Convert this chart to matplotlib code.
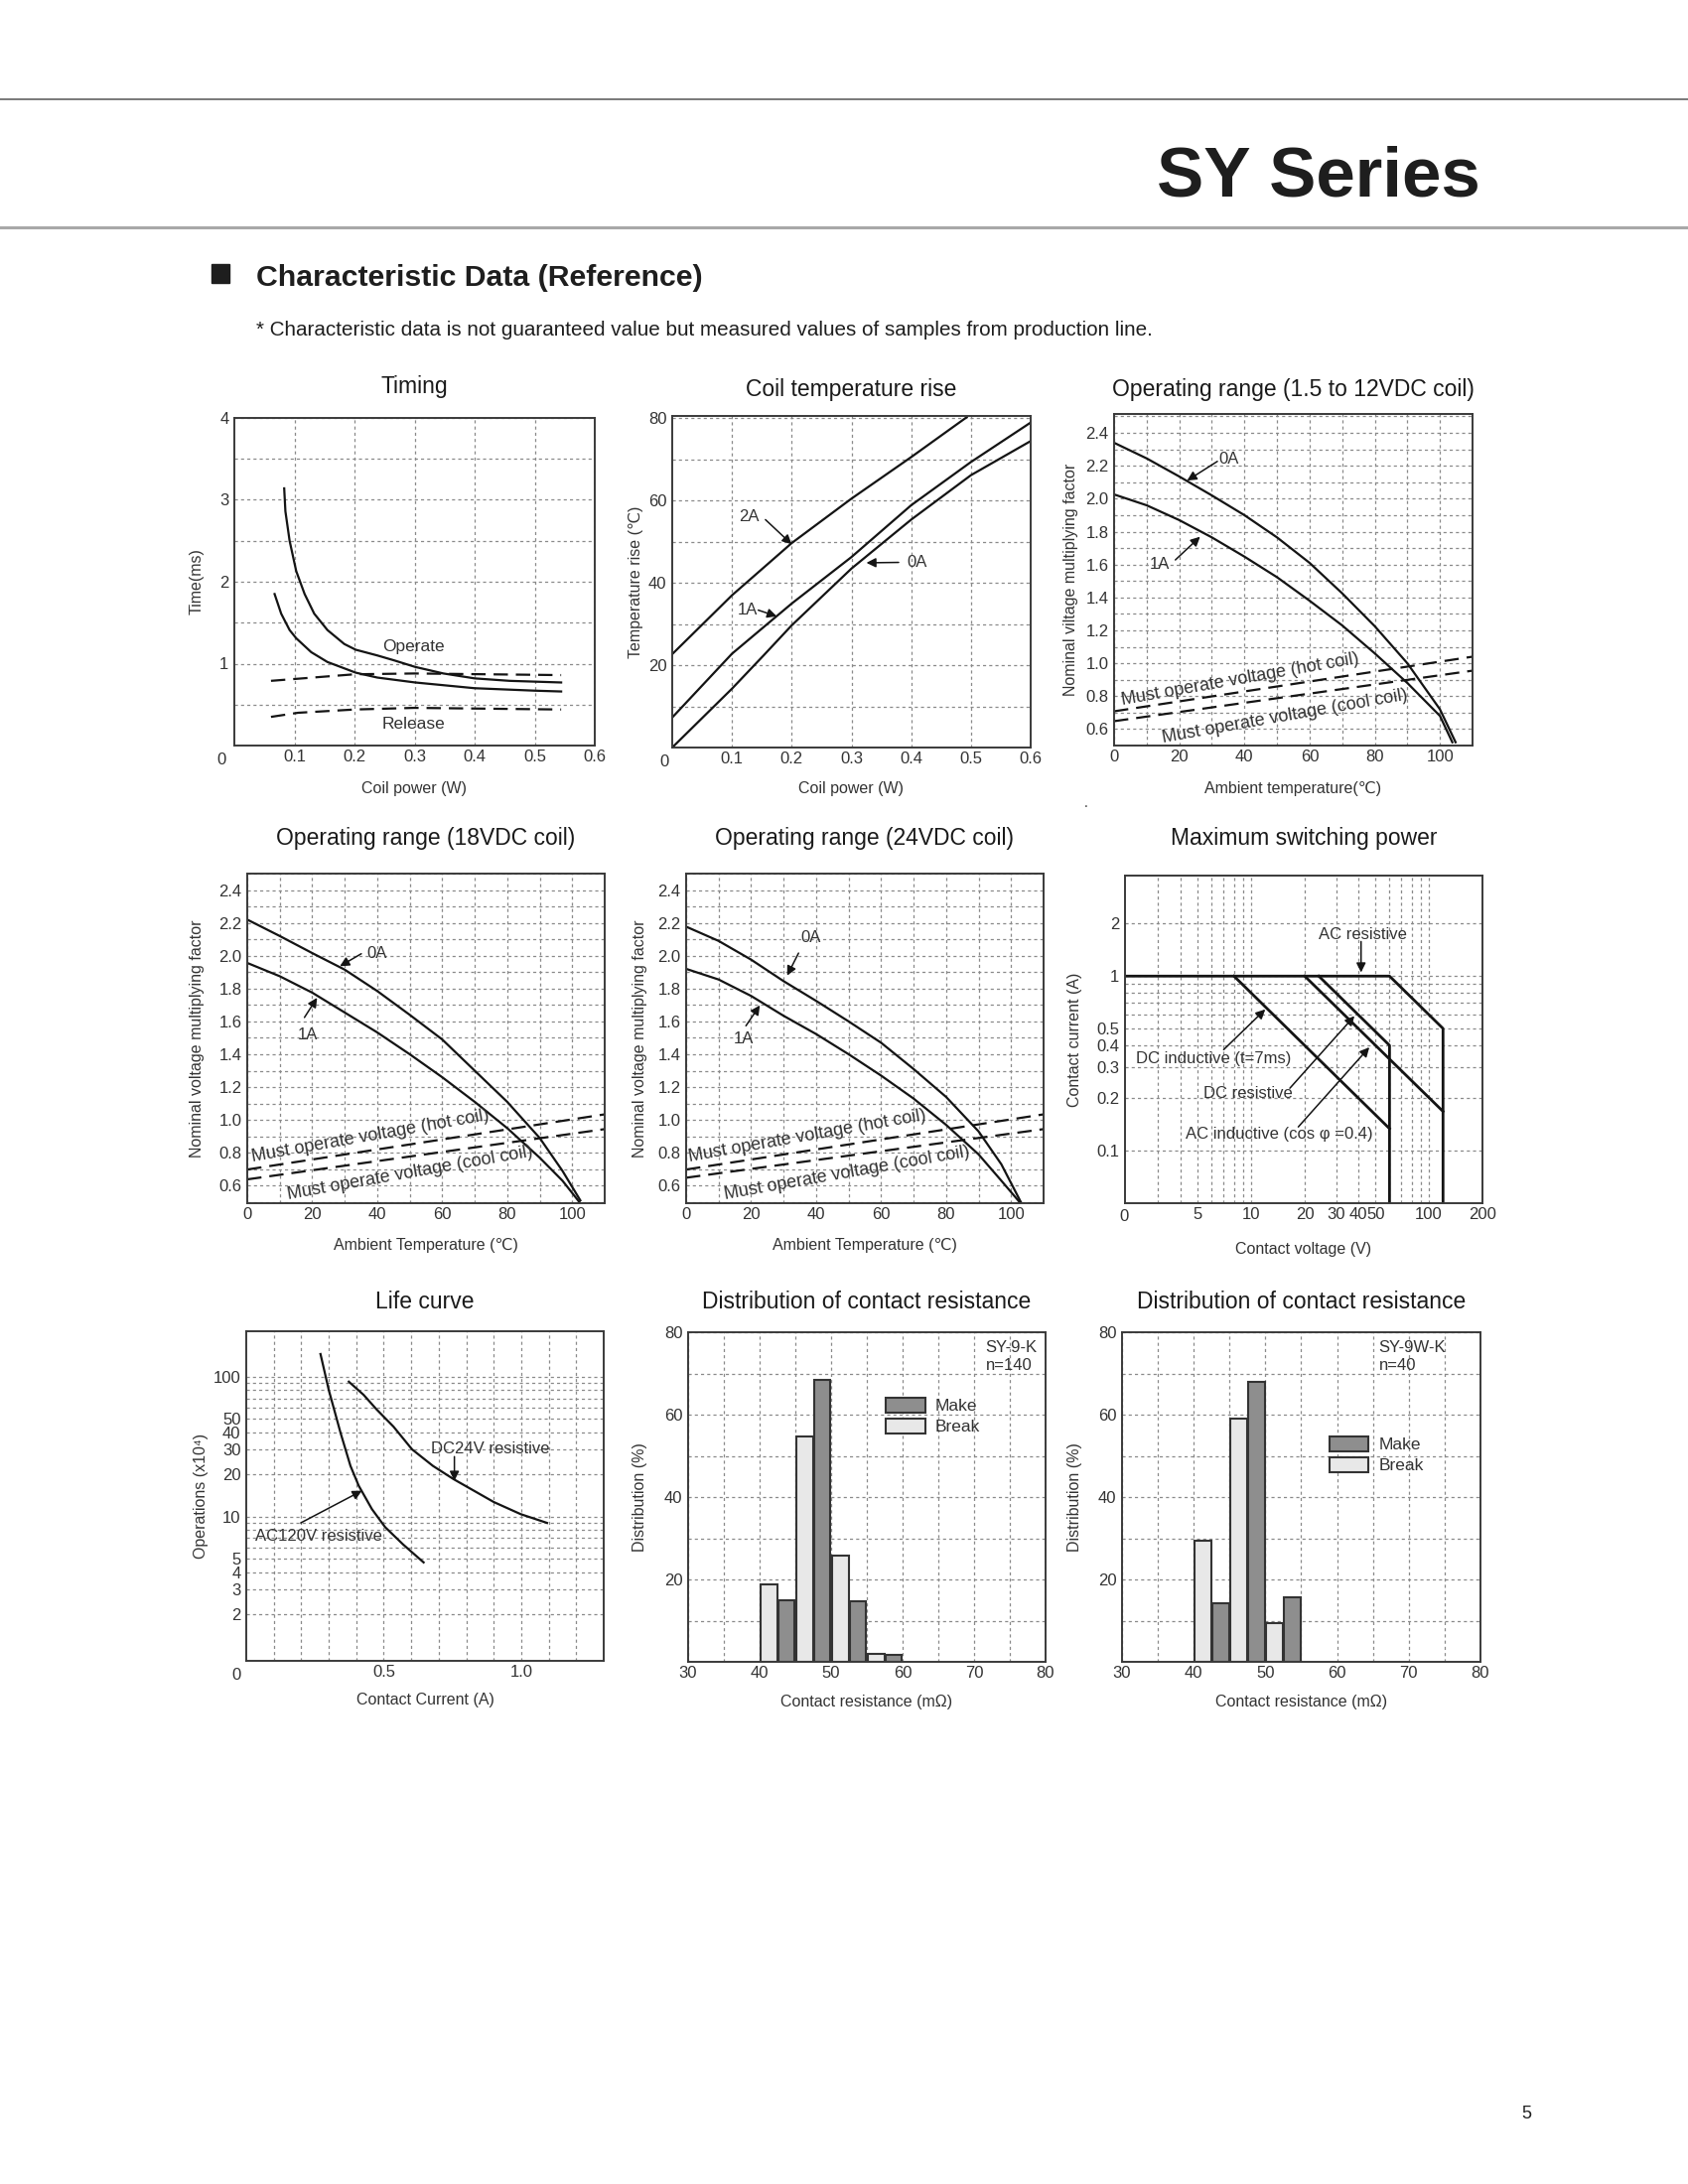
import numpy as np
import matplotlib
matplotlib.use('Agg')
import matplotlib.pyplot as plt
from matplotlib.ticker import NullFormatter
from matplotlib.patches import Rectangle
from matplotlib.lines import Line2D

# 字体：Liberation Sans，缺字（℃）时回落到 DejaVu Sans
plt.rcParams['font.family'] = ['Liberation Sans', 'DejaVu Sans']

# ---------------- data ----------------
# Timing
op_max_x = [0.083, 0.085, 0.092, 0.103, 0.117, 0.133, 0.155, 0.183, 0.202, 0.238, 0.266, 0.301, 0.348, 0.40, 0.458, 0.544]
op_max_y = [3.14, 2.86, 2.50, 2.13, 1.85, 1.61, 1.41, 1.24, 1.17, 1.10, 1.04, 0.96, 0.88, 0.82, 0.79, 0.77]
op_min_x = [0.067, 0.078, 0.092, 0.103, 0.128, 0.155, 0.202, 0.238, 0.301, 0.40, 0.50, 0.544]
op_min_y = [1.85, 1.61, 1.41, 1.31, 1.14, 1.02, 0.89, 0.83, 0.77, 0.70, 0.67, 0.66]
rel_max_x = [0.061, 0.2, 0.3, 0.544]
rel_max_y = [0.79, 0.87, 0.88, 0.86]
rel_min_x = [0.061, 0.106, 0.2, 0.3, 0.544]
rel_min_y = [0.35, 0.40, 0.44, 0.46, 0.44]

# Coil temperature rise
coil_2a_x = [0, 0.1, 0.2, 0.3, 0.4, 0.493]
coil_2a_y = [22.7, 37.0, 49.7, 60.5, 70.6, 80.3]
coil_1a_x = [0, 0.1, 0.2, 0.3, 0.4, 0.5, 0.6]
coil_1a_y = [7.3, 22.8, 35.0, 46.3, 58.9, 69.4, 79.0]
coil_0a_x = [0, 0.1, 0.153, 0.2, 0.3, 0.4, 0.5, 0.6]
coil_0a_y = [0, 14.3, 22.4, 29.7, 43.5, 55.4, 66.2, 74.5]

# Operating range (1.5 to 12VDC coil)
op12_0a_t = [0, 10, 20, 30, 40, 50, 60, 70, 80, 90, 100, 104.8]
op12_0a_v = [2.34, 2.245, 2.135, 2.02, 1.90, 1.765, 1.61, 1.425, 1.225, 1.0, 0.72, 0.52]
op12_1a_t = [0, 10, 20, 30, 40, 50, 60, 70, 80, 90, 100, 103.8]
op12_1a_v = [2.026, 1.96, 1.87, 1.765, 1.648, 1.523, 1.38, 1.23, 1.06, 0.88, 0.68, 0.52]
op12_hot_t, op12_hot_v = [0, 110], [0.708, 1.04]
op12_cool_t, op12_cool_v = [0, 110], [0.648, 0.955]

# Operating range (18VDC coil)
op18_0a_t = [0, 10, 20, 30, 40, 50, 60, 70, 80, 90, 97, 102.5]
op18_0a_v = [2.22, 2.12, 2.016, 1.915, 1.785, 1.64, 1.49, 1.30, 1.11, 0.89, 0.69, 0.51]
op18_1a_t = [0, 10, 20, 30, 40, 50, 60, 70, 80, 90, 97, 102.2]
op18_1a_v = [1.956, 1.875, 1.775, 1.654, 1.533, 1.40, 1.26, 1.11, 0.95, 0.77, 0.63, 0.50]
op18_hot_t, op18_hot_v = [0, 110], [0.698, 1.034]
op18_cool_t, op18_cool_v = [0, 110], [0.638, 0.944]

# Operating range (24VDC coil)
op24_0a_t = [0, 10, 20, 30, 40, 50, 60, 70, 80, 90, 97, 103]
op24_0a_v = [2.177, 2.09, 1.976, 1.845, 1.725, 1.60, 1.47, 1.31, 1.14, 0.93, 0.73, 0.50]
op24_1a_t = [0, 10, 20, 30, 40, 50, 60, 70, 80, 90, 97, 102.6]
op24_1a_v = [1.92, 1.855, 1.755, 1.634, 1.523, 1.40, 1.27, 1.13, 0.97, 0.79, 0.63, 0.50]
op24_hot_t, op24_hot_v = [0, 110], [0.698, 1.034]
op24_cool_t, op24_cool_v = [0, 110], [0.648, 0.944]

# Maximum switching power
ac_res_v = [1.95, 60, 120, 120]
ac_res_i = [1, 1, 0.5, 0.049]
dc_res_v = [24, 60, 60]
dc_res_i = [1, 0.4, 0.049]
dc_ind_v = [8, 60]
dc_ind_i = [1, 0.133]
ac_ind_v = [20, 120]
ac_ind_i = [1, 0.167]

# Life curve
life_ac_x = [0.27, 0.30, 0.343, 0.379, 0.409, 0.457, 0.505, 0.571, 0.645]
life_ac_y = [145, 80.4, 39.6, 23.0, 16.6, 11.3, 8.4, 6.3, 4.7]
life_dc_x = [0.373, 0.427, 0.475, 0.535, 0.603, 0.679, 0.754, 0.90, 0.998, 1.094]
life_dc_y = [92, 74, 58, 44, 30.2, 23, 18.5, 12.7, 10.4, 9.0]

# Distribution of contact resistance
dist1_bins = [40, 45, 50, 55]
dist1_break = [18.8, 54.6, 25.7, 2.0]
dist1_make = [15.0, 68.5, 14.8, 1.8]
dist2_bins = [40, 45, 50]
dist2_break = [29.4, 59.1, 9.5]
dist2_make = [14.1, 68.0, 15.7]

# ---------------- layout helpers ----------------
W, H = 1700, 2200
TXT = '#333333'
INK = '#141414'
DASH = (0, (6.5, 3.6))


def box(px):
    x0, y0, x1, y1 = px
    return [x0 / W, 1 - y1 / H, (x1 - x0) / W, (y1 - y0) / H]


def setup(ax, px, title, title_y, xlabel, xlabel_y, ylabel, ylabel_x):
    x0, y0, x1, y1 = px
    w, h = x1 - x0, y1 - y0
    ax.set_title(title, y=1 + (y0 - title_y) / h, pad=0, va='center',
                 fontsize=16.5, color='#1a1a1a')
    ax.set_xlabel(xlabel, fontsize=11.5, color=TXT)
    ax.xaxis.set_label_coords(0.5, -(xlabel_y - y1) / h)
    ax.xaxis.label.set_va('center')
    ax.set_ylabel(ylabel, fontsize=11.5, color=TXT)
    ax.yaxis.set_label_coords(-(x0 - ylabel_x) / w, 0.5)
    ax.yaxis.label.set_va('center')
    for s in ax.spines.values():
        s.set_color('#3a3a3a')
        s.set_linewidth(1.4)
    ax.tick_params(which='both', length=0, labelsize=12, labelcolor=TXT)
    ax.tick_params(axis='x', which='both', pad=3)
    ax.tick_params(axis='y', which='both', pad=4)
    ax.grid(True, which='both', color='#8a8a8a', lw=0.9, ls=(0, (2.5, 2.5)))
    ax.set_axisbelow(True)


def ticks(ax, xlab, xtxt, xgrid, ylab, ytxt, ygrid):
    ax.set_xticks(xlab, xtxt)
    ax.set_xticks(xgrid, minor=True)
    ax.set_yticks(ylab, ytxt)
    ax.set_yticks(ygrid, minor=True)
    ax.xaxis.set_minor_formatter(NullFormatter())
    ax.yaxis.set_minor_formatter(NullFormatter())


def corner_zero(ax, dx):
    ax.annotate('0', xy=(0, 0), xycoords='axes fraction', xytext=(dx, -14),
                textcoords='offset pixels', ha='center', va='center',
                fontsize=12, color=TXT)


def arrow(ax, tail, tip):
    ax.annotate('', xy=tip, xytext=tail,
                arrowprops=dict(arrowstyle='-|>', color=INK, lw=1.1,
                                mutation_scale=14, shrinkA=0, shrinkB=0))


def label(ax, x, y, s, **kw):
    kw.setdefault('fontsize', 12)
    ax.text(x, y, s, ha='center', va='center', color=TXT, **kw)


def fmt(vals, spec):
    return [format(v, spec) for v in vals]


fig = plt.figure(figsize=(17, 22), dpi=100)

# ---------------- page header ----------------
fig.add_artist(Line2D([0, 1], [1 - 100 / H] * 2, color='#6e6e6e', lw=1.3))
fig.add_artist(Line2D([0, 1], [1 - 229 / H] * 2, color='#a8a8a8', lw=2.2))
fig.text(1491 / W, 1 - 198 / H, 'SY Series', ha='right', va='baseline',
         fontsize=51, fontweight='bold', color='#1e1e1e')
fig.add_artist(Rectangle((213 / W, 1 - 285 / H), 18 / W, 19 / H,
                         transform=fig.transFigure, color='#1e1e1e'))
fig.text(258 / W, 1 - 288 / H, 'Characteristic Data (Reference)', ha='left', va='baseline',
         fontsize=21.8, fontweight='bold', color='#1e1e1e')
fig.text(258 / W, 1 - 338 / H,
         '* Characteristic data is not guaranteed value but measured values of samples from production line.',
         ha='left', va='baseline', fontsize=14.9, color='#1e1e1e')
fig.text(1537 / W, 1 - 2130 / H, '5', ha='center', va='center', fontsize=13, color='#1e1e1e')
fig.text(1094 / W, 1 - 809 / H, '.', ha='center', va='center', fontsize=10, color=TXT)

# ---------------- Timing ----------------
px = (236, 421, 599, 751)
ax = fig.add_axes(box(px))
setup(ax, px, 'Timing', 390, 'Coil power (W)', 795, 'Time(ms)', 198)
ax.plot(op_max_x, op_max_y, color=INK, lw=1.6)
ax.plot(op_min_x, op_min_y, color=INK, lw=1.6)
ax.plot(rel_max_x, rel_max_y, color=INK, lw=1.6, ls=DASH)
ax.plot(rel_min_x, rel_min_y, color=INK, lw=1.6, ls=DASH)
ax.set_xlim(0, 0.6)
ax.set_ylim(0, 4)
ticks(ax, [0.1, 0.2, 0.3, 0.4, 0.5, 0.6], ['0.1', '0.2', '0.3', '0.4', '0.5', '0.6'],
      [0.1, 0.2, 0.3, 0.4, 0.5], [1, 2, 3, 4], ['1', '2', '3', '4'],
      [0.5, 1.5, 2.5, 3.5])
corner_zero(ax, -13)
label(ax, 0.299, 1.21, 'Operate', fontsize=12.5)
label(ax, 0.299, 0.26, 'Release', fontsize=12.5)

# ---------------- Coil temperature rise ----------------
px = (677, 419, 1038, 753)
ax = fig.add_axes(box(px))
setup(ax, px, 'Coil temperature rise', 392, 'Coil power (W)', 795,
      'Temperature rise (℃)', 640)
ax.plot(coil_2a_x, coil_2a_y, color=INK, lw=1.6)
ax.plot(coil_1a_x, coil_1a_y, color=INK, lw=1.6)
ax.plot(coil_0a_x, coil_0a_y, color=INK, lw=1.6)
ax.set_xlim(0, 0.6)
ax.set_ylim(0, 80.6)
ticks(ax, [0.1, 0.2, 0.3, 0.4, 0.5, 0.6], ['0.1', '0.2', '0.3', '0.4', '0.5', '0.6'],
      [0.1, 0.2, 0.3, 0.4, 0.5], [20, 40, 60, 80], ['20', '40', '60', '80'],
      [10, 30, 50, 70])
corner_zero(ax, -8)
label(ax, 0.128, 56.0, '2A')
arrow(ax, (0.156, 55.4), (0.2, 49.4))
label(ax, 0.126, 33.4, '1A')
arrow(ax, (0.144, 33.4), (0.175, 31.9))
label(ax, 0.409, 44.9, '0A')
arrow(ax, (0.379, 45.0), (0.325, 44.9))


# ---------------- Operating range charts ----------------
def operating(px, title, title_y, xlabel, ylabel, ylabel_x, ylim,
              t0, v0, t1, v1, th, vh, tc, vc, notes):
    ax = fig.add_axes(box(px))
    setup(ax, px, title, title_y, xlabel, px[3] + 43, ylabel, ylabel_x)
    ax.plot(t0, v0, color=INK, lw=1.6)
    ax.plot(t1, v1, color=INK, lw=1.6)
    ax.plot(th, vh, color=INK, lw=1.6, ls=DASH)
    ax.plot(tc, vc, color=INK, lw=1.6, ls=DASH)
    ax.set_xlim(0, 110)
    ax.set_ylim(*ylim)
    ylab = [0.6, 0.8, 1.0, 1.2, 1.4, 1.6, 1.8, 2.0, 2.2, 2.4]
    ticks(ax, [0, 20, 40, 60, 80, 100], ['0', '20', '40', '60', '80', '100'],
          list(range(10, 110, 10)), ylab, fmt(ylab, '.1f'),
          [round(0.5 + 0.1 * k, 1) for k in range(21)])
    (a0, a0_tail, a0_tip), (a1, a1_tail, a1_tip), hot_xy, cool_xy = notes
    label(ax, *a0, '0A')
    arrow(ax, a0_tail, a0_tip)
    label(ax, *a1, '1A')
    arrow(ax, a1_tail, a1_tip)
    ax.text(*hot_xy, 'Must operate voltage (hot coil)', rotation=10, rotation_mode='anchor',
            ha='center', va='center', fontsize=13, color=TXT)
    ax.text(*cool_xy, 'Must operate voltage (cool coil)', rotation=10, rotation_mode='anchor',
            ha='center', va='center', fontsize=13, color=TXT)
    return ax


operating((1122, 417, 1483, 751), 'Operating range (1.5 to 12VDC coil)', 393,
          'Ambient temperature(℃)', 'Nominal viltage multiplying factor', 1078, (0.5, 2.515),
          op12_0a_t, op12_0a_v, op12_1a_t, op12_1a_v,
          op12_hot_t, op12_hot_v, op12_cool_t, op12_cool_v,
          [((35.1, 2.241), (31.7, 2.227), (22.4, 2.11)),
           ((14.0, 1.604), (18.8, 1.628), (26.4, 1.769)),
           (38.7, 0.90), (52.4, 0.674)])

operating((249, 880, 609, 1212), 'Operating range (18VDC coil)', 845,
          'Ambient Temperature (℃)', 'Nominal voltage multiplying factor', 198, (0.493, 2.5),
          op18_0a_t, op18_0a_v, op18_1a_t, op18_1a_v,
          op18_hot_t, op18_hot_v, op18_cool_t, op18_cool_v,
          [((40.0, 2.012), (35.1, 2.012), (28.5, 1.936)),
           ((18.6, 1.517), (17.6, 1.624), (21.5, 1.744)),
           (37.9, 0.90), (50.2, 0.678)])

operating((691, 880, 1051, 1212), 'Operating range (24VDC coil)', 845,
          'Ambient Temperature (℃)', 'Nominal voltage multiplying factor', 645, (0.493, 2.5),
          op24_0a_t, op24_0a_v, op24_1a_t, op24_1a_v,
          op24_hot_t, op24_hot_v, op24_cool_t, op24_cool_v,
          [((38.5, 2.113), (34.6, 2.016), (31.1, 1.879)),
           ((17.6, 1.493), (18.4, 1.573), (22.7, 1.698)),
           (37.4, 0.90), (49.6, 0.678)])

# ---------------- Maximum switching power ----------------
px = (1133, 882, 1493, 1212)
ax = fig.add_axes(box(px))
setup(ax, px, 'Maximum switching power', 845, 'Contact voltage (V)', 1258,
      'Contact current (A)', 1082)
ax.set_xscale('log')
ax.set_yscale('log')
for v, i in [(ac_res_v, ac_res_i), (dc_res_v, dc_res_i), (dc_ind_v, dc_ind_i), (ac_ind_v, ac_ind_i)]:
    ax.plot(v, i, color=INK, lw=2.0)
ax.set_xlim(1.95, 200)
ax.set_ylim(0.0496, 3.78)
ticks(ax, [5, 10, 20, 30, 40, 50, 100, 200], ['5', '10', '20', '30', '40', '50', '100', '200'],
      [3, 4, 5, 6, 7, 8, 9, 10, 20, 30, 40, 50, 60, 70, 80, 90, 100],
      [0.1, 0.2, 0.3, 0.4, 0.5, 1, 2], ['0.1', '0.2', '0.3', '0.4', '0.5', '1', '2'],
      [0.1, 0.2, 0.3, 0.4, 0.5, 0.6, 0.7, 0.8, 0.9, 1, 2])
corner_zero(ax, -1)
label(ax, 42.4, 1.73, 'AC resistive')
arrow(ax, (41.5, 1.58), (41.5, 1.05))
label(ax, 6.13, 0.333, 'DC inductive (t=7ms)')
arrow(ax, (7.0, 0.378), (12.0, 0.644))
label(ax, 9.65, 0.211, 'DC resistive')
arrow(ax, (16.5, 0.227), (38.1, 0.59))
label(ax, 14.3, 0.123, 'AC inductive (cos φ =0.4)')
arrow(ax, (18.4, 0.136), (46.2, 0.39))

# ---------------- Life curve ----------------
px = (248, 1341, 608, 1673)
ax = fig.add_axes(box(px))
setup(ax, px, 'Life curve', 1312, 'Contact Current (A)', 1713, 'Operations (x10⁴)', 203)
ax.set_yscale('log')
ax.plot(life_ac_x, life_ac_y, color=INK, lw=1.6)
ax.plot(life_dc_x, life_dc_y, color=INK, lw=1.6)
ax.set_xlim(0, 1.3)
ax.set_ylim(0.93, 211)
ylab = [2, 3, 4, 5, 10, 20, 30, 40, 50, 100]
ticks(ax, [0.5, 1.0], ['0.5', '1.0'], [round(0.1 * k, 1) for k in range(1, 13)],
      ylab, [str(v) for v in ylab],
      [2, 3, 4, 5, 6, 7, 8, 9, 10, 20, 30, 40, 50, 60, 70, 80, 90, 100])
corner_zero(ax, -10)
label(ax, 0.889, 30.6, 'DC24V resistive')
arrow(ax, (0.757, 26.8), (0.757, 18.0))
label(ax, 0.264, 7.2, 'AC120V resistive')
arrow(ax, (0.198, 9.0), (0.421, 15.3))


# ---------------- Distribution of contact resistance ----------------
def distribution(px, bins, brk, make, tag, tag_xy, legend_xy):
    ax = fig.add_axes(box(px))
    setup(ax, px, 'Distribution of contact resistance', 1312, 'Contact resistance (mΩ)', 1715,
          'Distribution (%)', px[0] - 48)
    b = np.array(bins)
    bb = ax.bar(b + 1.3, brk, width=2.35, color='#e8e8e8', edgecolor='#333333', lw=1.5)
    bm = ax.bar(b + 3.75, make, width=2.35, color='#8e8e8e', edgecolor='#333333', lw=1.5)
    ax.set_xlim(30, 80)
    ax.set_ylim(0, 80)
    ticks(ax, [30, 40, 50, 60, 70, 80], ['30', '40', '50', '60', '70', '80'],
          list(range(35, 80, 5)), [20, 40, 60, 80], ['20', '40', '60', '80'],
          list(range(10, 80, 10)))
    ax.legend([bm, bb], ['Make', 'Break'], loc='upper left', bbox_to_anchor=legend_xy,
              bbox_transform=ax.transData, frameon=False, fontsize=12.5,
              handlelength=2.25, handleheight=1.0, labelspacing=0.25,
              handletextpad=0.6, borderpad=0, borderaxespad=0, labelcolor=TXT)
    ax.text(*tag_xy, tag, ha='left', va='top', fontsize=12, color=TXT, linespacing=1.25)


distribution((693, 1342, 1053, 1674), dist1_bins, dist1_break, dist1_make,
             'SY-9-K\nn=140', (71.6, 78.0), (57.7, 64.2))
distribution((1130, 1342, 1491, 1674), dist2_bins, dist2_break, dist2_make,
             'SY-9W-K\nn=40', (65.8, 78.0), (59.0, 54.8))

fig.savefig('out.png', dpi=100)
